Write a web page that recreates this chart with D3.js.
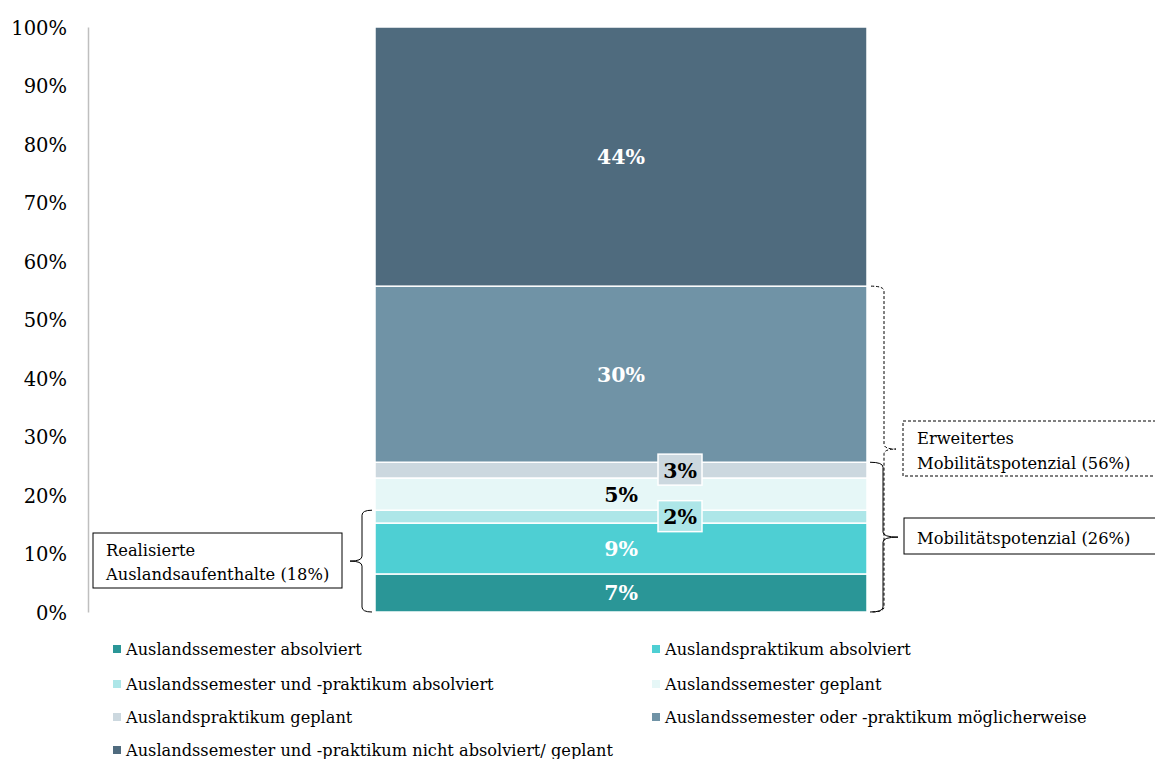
<!DOCTYPE html>
<html><head><meta charset="utf-8">
<script src="https://cdn.jsdelivr.net/npm/d3@7"></script>
<style>body{margin:0;background:#fff}svg{display:block;font-family:"DejaVu Serif",serif}</style>
</head><body><svg id="c" width="1155" height="759"></svg>
<script>
const categories = ["Studierende"];
const series = ["Auslandssemester absolviert","Auslandspraktikum absolviert","Auslandssemester und -praktikum absolviert","Auslandssemester geplant","Auslandspraktikum geplant","Auslandssemester oder -praktikum möglicherweise","Auslandssemester und -praktikum nicht absolviert/ geplant"];
const values = [6.5, 8.7, 2.2, 5.5, 2.7, 30.1, 44.3];
const valueLabels = ["7%","9%","2%","5%","3%","30%","44%"];
const colors = ["#2a9697","#4ecfd3","#ade6e8","#e6f7f7","#ccd8df","#7093a6","#4f6b7e"];
const labelColors = ["#fff","#fff","#000","#000","#000","#fff","#fff"];
const boxedLabels = [false,false,true,false,true,false,false];
const tickValues = [0,10,20,30,40,50,60,70,80,90,100];
const tickLabels = ["0%","10%","20%","30%","40%","50%","60%","70%","80%","90%","100%"];
const groups = [
  {lines:["Realisierte","Auslandsaufenthalte (18%)"], upTo:3, side:"left", dashed:false},
  {lines:["Mobilitätspotenzial (26%)"], upTo:5, side:"right", dashed:false},
  {lines:["Erweitertes","Mobilitätspotenzial (56%)"], upTo:6, side:"right", dashed:true}
];

const svg = d3.select("#c");
const y = d3.scaleLinear().domain([0,100]).range([612,27]);
const x = d3.scaleBand().domain(categories).range([375,867]).padding(0);

// axis
const yAxis = d3.axisLeft(y).tickValues(tickValues).tickFormat((d,i)=>tickLabels[i]).tickSize(0).tickPadding(21);
const ga = svg.append("g").attr("transform","translate(88,0)").call(yAxis);
ga.select(".domain").attr("stroke","#bfbfbf").attr("stroke-width",1.5);
ga.selectAll("text").attr("font-family","DejaVu Serif").attr("font-size",19.5).attr("fill","#000").attr("dy","0.38em");

// stack
let cum = 0;
const segs = values.map((v,i)=>{const s={i,y0:cum,y1:cum+v,v}; cum+=v; return s;});
const cx = x(categories[0]) + x.bandwidth()/2;
svg.append("g").selectAll("rect").data(segs).join("rect")
  .attr("x", x(categories[0])).attr("width", x.bandwidth())
  .attr("y", d=>y(d.y1)).attr("height", d=>y(d.y0)-y(d.y1))
  .attr("fill", d=>colors[d.i]).attr("stroke","#fff").attr("stroke-width",1.5);

// labels
segs.forEach(d=>{
  const my = (y(d.y0)+y(d.y1))/2;
  if (boxedLabels[d.i]) {
    const bx = cx + 59;
    const g = svg.append("g");
    g.append("rect").attr("x",bx-22).attr("y",my-16).attr("width",44).attr("height",31)
      .attr("fill",colors[d.i]).attr("stroke","#fff").attr("stroke-width",1.5);
    g.append("text").attr("x",bx).attr("y",my).attr("dy","0.36em").attr("text-anchor","middle")
      .attr("font-size",20.5).attr("font-weight","bold").attr("fill",labelColors[d.i]).text(valueLabels[d.i]);
  } else {
    svg.append("text").attr("x",cx).attr("y",my).attr("dy","0.36em").attr("text-anchor","middle")
      .attr("font-size",20.5).attr("font-weight","bold").attr("fill",labelColors[d.i]).text(valueLabels[d.i]);
  }
});

// braces
function brace(xv, y1, y2, dir, arm, tip, r){
  const ym=(y1+y2)/2, a=xv-dir*arm, t=xv+dir*tip;
  return `M${a},${y1} Q${xv},${y1} ${xv},${y1+r} L${xv},${ym-r} Q${xv},${ym} ${t},${ym} Q${xv},${ym} ${xv},${ym+r} L${xv},${y2-r} Q${xv},${y2} ${a},${y2}`;
}
const layout = [
  {bx:362, box:[93,533,249,55], tx:106, ty:[556,580]},
  {bx:883, box:[904,518,260,36], tx:917, ty:[544]},
  {bx:884, box:[903,421,260,55], tx:917, ty:[444,469]}
];
groups.forEach((g,k)=>{
  const L = layout[k];
  const top = d3.sum(values.slice(0,g.upTo));
  const y1=y(top), y2=y(0);
  const dir = g.side==="right"?1:-1;
  svg.append("path").attr("d",brace(L.bx,y1,y2,dir,g.side==="right"?13:10,g.side==="right"?(g.dashed?12:15):12,5))
    .attr("fill","none").attr("stroke","#000").attr("stroke-width",1)
    .attr("stroke-dasharray",g.dashed?"3,2":null);
  svg.append("rect").attr("x",L.box[0]).attr("y",L.box[1]).attr("width",L.box[2]).attr("height",L.box[3])
    .attr("fill","#fff").attr("stroke","#000").attr("stroke-width",1)
    .attr("stroke-dasharray",g.dashed?"3,2":null);
  g.lines.forEach((ln,j)=>{
    svg.append("text").attr("x",L.tx).attr("y",L.ty[j]).attr("font-size",16.3).attr("fill","#000").text(ln);
  });
});

// legend
const lg = svg.append("g");
series.forEach((s,i)=>{
  const col=i%2, row=Math.floor(i/2);
  const lx = col===0?113:652, ly = [649,684,717,750][row];
  lg.append("rect").attr("x",lx).attr("y",ly-4).attr("width",8).attr("height",8).attr("fill",colors[i]);
  lg.append("text").attr("x",lx+13).attr("y",ly).attr("dy","0.35em").attr("font-size",16.2).attr("fill","#000").text(s);
});
</script></body></html>
